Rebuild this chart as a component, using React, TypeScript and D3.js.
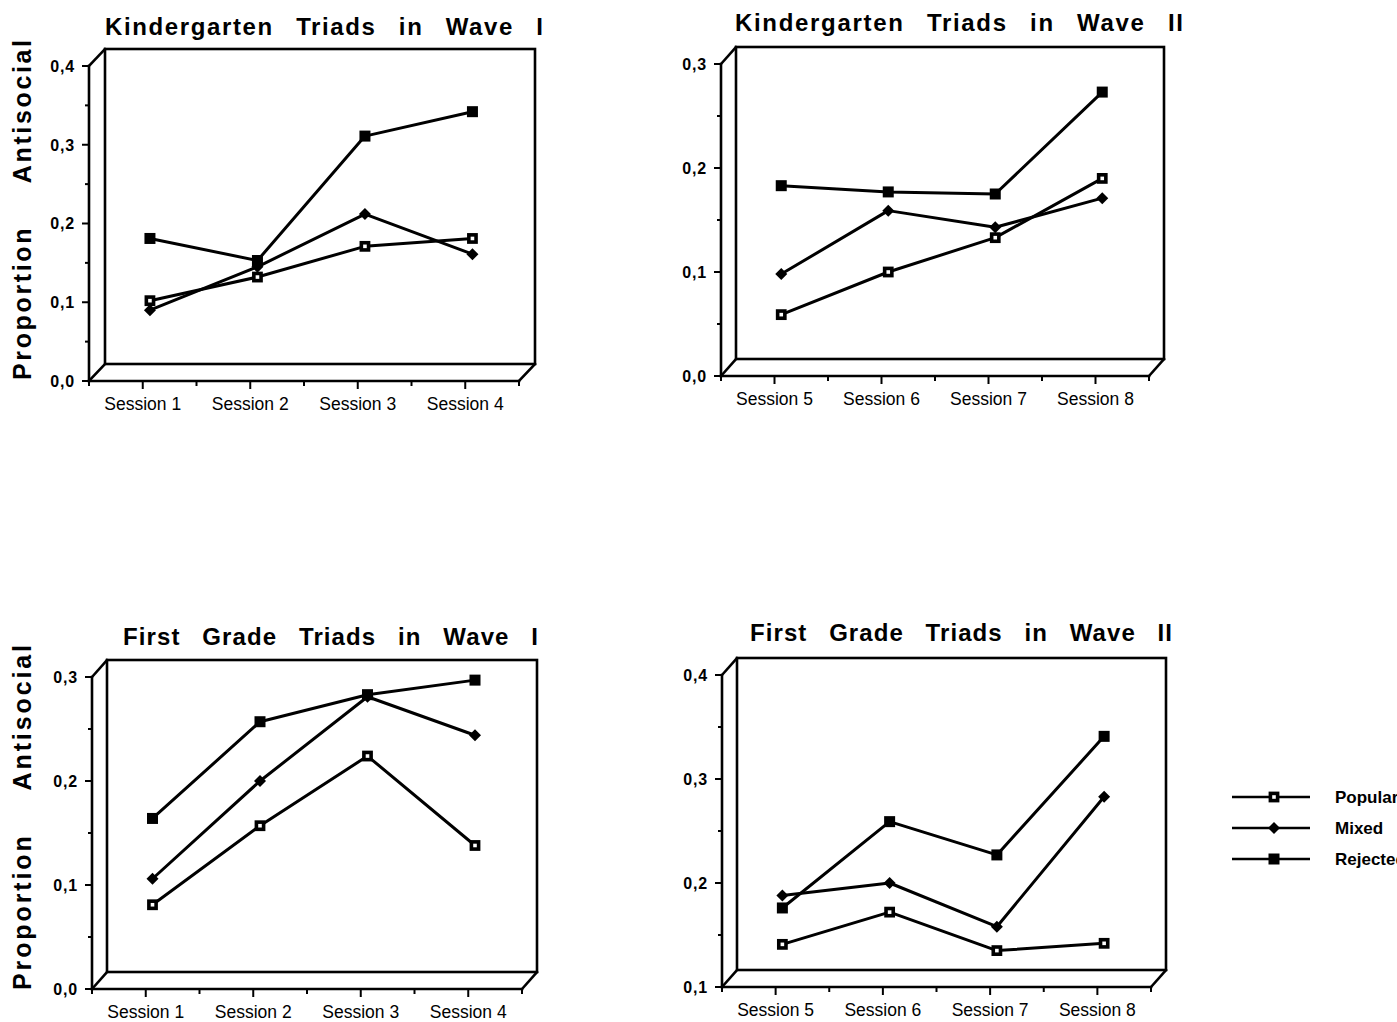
import React from "react";
import * as d3 from "d3";

// ---------- data ----------
const sessionsWave1 = ["Session 1", "Session 2", "Session 3", "Session 4"];
const sessionsWave2 = ["Session 5", "Session 6", "Session 7", "Session 8"];

const groupNames = ["Popular", "Mixed", "Rejected"];

const kgW1Popular = [0.102, 0.132, 0.171, 0.181];
const kgW1Mixed = [0.09, 0.145, 0.212, 0.161];
const kgW1Rejected = [0.181, 0.153, 0.311, 0.342];

const kgW2Popular = [0.059, 0.1, 0.133, 0.19];
const kgW2Mixed = [0.098, 0.159, 0.143, 0.171];
const kgW2Rejected = [0.183, 0.177, 0.175, 0.273];

const fgW1Popular = [0.081, 0.157, 0.224, 0.138];
const fgW1Mixed = [0.106, 0.2, 0.281, 0.244];
const fgW1Rejected = [0.164, 0.257, 0.283, 0.297];

const fgW2Popular = [0.141, 0.172, 0.135, 0.142];
const fgW2Mixed = [0.188, 0.2, 0.158, 0.283];
const fgW2Rejected = [0.176, 0.259, 0.227, 0.341];

const ticksKgW1 = [0, 0.1, 0.2, 0.3, 0.4];
const ticksKgW2 = [0, 0.1, 0.2, 0.3];
const ticksFgW1 = [0, 0.1, 0.2, 0.3];
const ticksFgW2 = [0.1, 0.2, 0.3, 0.4];

const titles = [
  "Kindergarten Triads in Wave I",
  "Kindergarten Triads in Wave II",
  "First Grade Triads in Wave I",
  "First Grade Triads in Wave II",
];
const yAxisTitle = "Proportion Antisocial";

// ---------- layout ----------
const FONT = "'Liberation Sans', Arial, Helvetica, sans-serif";

const panels = [
  {
    title: titles[0], sessions: sessionsWave1, ticks: ticksKgW1,
    series: [kgW1Popular, kgW1Mixed, kgW1Rejected],
    x0: 89, x1: 519, yBottom: 381, yTop: 66, dx: 16, dy: -17,
    titleX0: 105, titleX1: 543, titleY: 35, yLabel: { x: 31, y0: 40, y1: 380 },
  },
  {
    title: titles[1], sessions: sessionsWave2, ticks: ticksKgW2,
    series: [kgW2Popular, kgW2Mixed, kgW2Rejected],
    x0: 721, x1: 1149, yBottom: 376, yTop: 64, dx: 15, dy: -17,
    titleX0: 735, titleX1: 1183, titleY: 31, yLabel: null,
  },
  {
    title: titles[2], sessions: sessionsWave1, ticks: ticksFgW1,
    series: [fgW1Popular, fgW1Mixed, fgW1Rejected],
    x0: 92, x1: 522, yBottom: 989, yTop: 677, dx: 15, dy: -17,
    titleX0: 123, titleX1: 538, titleY: 645, yLabel: { x: 31, y0: 645, y1: 990 },
  },
  {
    title: titles[3], sessions: sessionsWave2, ticks: ticksFgW2,
    series: [fgW2Popular, fgW2Mixed, fgW2Rejected],
    x0: 722, x1: 1151, yBottom: 987, yTop: 675, dx: 15, dy: -17,
    titleX0: 750, titleX1: 1172, titleY: 641, yLabel: null,
  },
];

const fmt = (v: number) => d3.format(".1f")(v).replace(".", ",");

function Marker({ kind, x, y }: { kind: number; x: number; y: number }) {
  if (kind === 0) {
    return <rect x={x - 3.6} y={y - 3.6} width={7.2} height={7.2} fill="#fff" stroke="#000" strokeWidth={3.6} />;
  }
  if (kind === 1) {
    const r = 6;
    return <path d={`M${x},${y - r}L${x + r},${y}L${x},${y + r}L${x - r},${y}Z`} fill="#000" />;
  }
  return <rect x={x - 5.5} y={y - 5.5} width={11} height={11} fill="#000" />;
}

function Panel({ cfg }: { cfg: any }) {
  const { x0, x1, yBottom, yTop, dx, dy, ticks, sessions, series } = cfg;
  const domain = [ticks[0], ticks[ticks.length - 1]];
  const x = d3.scaleBand<string>().domain(sessions).range([x0, x1]);
  const y = d3.scaleLinear().domain(domain).range([yBottom, yTop]);
  const cx = (s: string) => (x(s) as number) + x.bandwidth() / 2;
  const shift = dx * 0.45;
  const minor = ticks.slice(1).map((t: number, i: number) => (t + ticks[i]) / 2);
  const bounds = sessions.map((s: string) => x(s) as number).concat([x1]);
  const line = d3
    .line<number>()
    .x((_, i) => cx(sessions[i]) + shift)
    .y((d) => y(d));
  const sw = 2.6;
  return (
    <g>
      {/* 3D frame */}
      <g stroke="#000" strokeWidth={sw} fill="none" strokeLinecap="square">
        <rect x={x0 + dx} y={yTop + dy} width={x1 - x0} height={yBottom - yTop} />
        <line x1={x0} y1={yTop} x2={x0} y2={yBottom} />
        <line x1={x0} y1={yTop} x2={x0 + dx} y2={yTop + dy} />
        <line x1={x0} y1={yBottom} x2={x1} y2={yBottom} />
        <line x1={x0} y1={yBottom} x2={x0 + dx} y2={yBottom + dy} />
        <line x1={x1} y1={yBottom} x2={x1 + dx} y2={yBottom + dy} />
      </g>
      {/* y ticks */}
      <g stroke="#000" strokeWidth={2}>
        {ticks.map((t: number) => (
          <line key={"t" + t} x1={x0 - 7} x2={x0} y1={y(t)} y2={y(t)} />
        ))}
        {minor.map((t: number) => (
          <line key={"m" + t} x1={x0 - 4} x2={x0} y1={y(t)} y2={y(t)} />
        ))}
      </g>
      {ticks.map((t: number) => (
        <text key={"l" + t} x={x0 - 14} y={y(t)} dy="0.36em" textAnchor="end"
          fontFamily={FONT} fontSize={16} fontWeight="bold" letterSpacing={0.8} fill="#000">
          {fmt(t)}
        </text>
      ))}
      {/* x ticks */}
      <g stroke="#000" strokeWidth={2}>
        {sessions.map((s: string) => (
          <line key={"xt" + s} x1={cx(s)} x2={cx(s)} y1={yBottom} y2={yBottom + 8} />
        ))}
        {bounds.map((b: number, i: number) => (
          <line key={"xb" + i} x1={b} x2={b} y1={yBottom} y2={yBottom + 5} />
        ))}
      </g>
      {sessions.map((s: string) => (
        <text key={"xl" + s} x={cx(s)} y={yBottom + 29} textAnchor="middle"
          fontFamily={FONT} fontSize={17.5} fill="#000">
          {s}
        </text>
      ))}
      {/* series */}
      {series.map((vals: number[], k: number) => (
        <path key={"s" + k} d={line(vals) as string} fill="none" stroke="#000"
          strokeWidth={3} strokeLinejoin="round" />
      ))}
      {series.map((vals: number[], k: number) =>
        vals.map((v, i) => (
          <Marker key={"p" + k + i} kind={k} x={cx(sessions[i]) + shift} y={y(v)} />
        ))
      )}
      {/* title */}
      <text x={cfg.titleX0} y={cfg.titleY} textLength={cfg.titleX1 - cfg.titleX0}
        lengthAdjust="spacing" wordSpacing={14} fontFamily={FONT} fontSize={24}
        fontWeight="bold" fill="#000">
        {cfg.title}
      </text>
      {cfg.yLabel && (
        <text
          transform={`translate(${cfg.yLabel.x},${(cfg.yLabel.y0 + cfg.yLabel.y1) / 2}) rotate(-90)`}
          textAnchor="middle" textLength={cfg.yLabel.y1 - cfg.yLabel.y0} lengthAdjust="spacing"
          wordSpacing={34} fontFamily={FONT} fontSize={25} fontWeight="bold" fill="#000">
          {yAxisTitle}
        </text>
      )}
    </g>
  );
}

function Legend() {
  const lx0 = 1232;
  const lx1 = 1310;
  const ys = d3.scalePoint<string>().domain(groupNames).range([797, 859]);
  return (
    <g>
      {groupNames.map((g, k) => {
        const yy = ys(g) as number;
        return (
          <g key={g}>
            <line x1={lx0} x2={lx1} y1={yy} y2={yy} stroke="#000" strokeWidth={2.6} />
            <Marker kind={k} x={1274} y={yy} />
            <text x={1335} y={yy} dy="0.36em" fontFamily={FONT} fontSize={17} fontWeight="bold" fill="#000">
              {g}
            </text>
          </g>
        );
      })}
    </g>
  );
}

export default function App() {
  return (
    <svg width={1397} height={1022} style={{ position: "absolute", left: 0, top: 0, background: "#fff" }}>
      <rect x={0} y={0} width={1397} height={1022} fill="#fff" />
      {panels.map((p, i) => (
        <Panel key={i} cfg={p} />
      ))}
      <Legend />
    </svg>
  );
}
